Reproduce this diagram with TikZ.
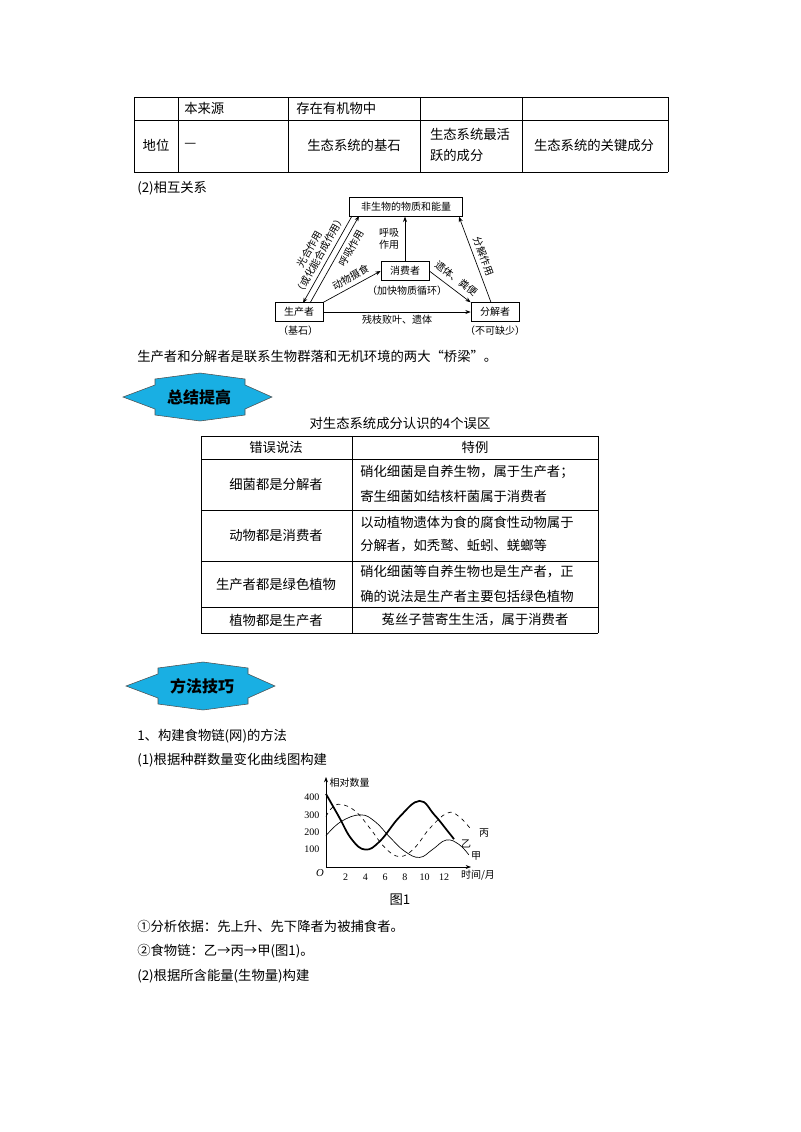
\documentclass[tikz,border=0pt]{standalone}
\usepackage{fontspec}
\setmainfont{Liberation Serif}
\newfontfamily\cjk{Noto Sans CJK SC}
\usetikzlibrary{arrows.meta}
\definecolor{bannerblue}{RGB}{25,175,227}
\tikzset{
 txt/.style={font=\cjk\fontsize{10}{12}\selectfont,inner sep=0pt},
 lt/.style={txt,anchor=west},
 sm/.style={font=\cjk\fontsize{7.5}{9}\selectfont,inner sep=1pt,align=center},
 bx/.style={sm,draw,line width=0.5pt,minimum height=14pt,minimum width=36pt},
 ar/.style={-{Stealth[length=4pt,width=3pt]},line width=0.5pt},
 tl/.style={line width=0.6pt},
 banner/.style={fill=bannerblue,draw=black!70,line width=0.4pt},
}
\begin{document}
\begin{tikzpicture}[x=0.75pt,y=-0.75pt]
\useasboundingbox (0,0) rectangle (800,1132);
% top table
\foreach \y in {97,120,172} \draw[tl] (134,\y) -- (668,\y);
\foreach \x in {134,178,288,420,522,668} \draw[tl] (\x,97) -- (\x,172);
\node[lt] (t1) at (184,108) {本来源};
\node[lt] (t2) at (296,108) {存在有机物中};
\node[txt] (t3) at (156,145) {地位};
\node[lt] (t4) at (184,145) {—};
\node[txt] (t5) at (354,145) {生态系统的基石};
\node[txt,align=left] (t6) at (470,145) {生态系统最活\\[4pt]跃的成分};
\node[txt] (t7) at (594,145) {生态系统的关键成分};
\node[lt] (h2) at (137,188) {(2)相互关系};
% triangle diagram
\node[bx,minimum width=85pt] (abio) at (406,207) {非生物的物质和能量};
\node[bx] (cons) at (405,271) {消费者};
\node[bx] (prod) at (299,312) {生产者};
\node[bx] (deco) at (495,312) {分解者};
\node[sm] (c1) at (407,291) {（加快物质循环）};
\node[sm] (p1) at (298,331) {（基石）};
\node[sm] (d1) at (495,331) {（不可缺少）};
\coordinate (a1) at (352,216); \coordinate (a2) at (303,303);
\coordinate (b1) at (310,303); \coordinate (b2) at (359,216);
\draw[ar] (a1) -- (a2);
\draw[ar] (b1) -- (b2);
\path (a2) -- (a1) node[sm,midway,sloped,above=2pt] (l1) {光合作用\\（或化能合成作用）};
\path (b1) -- (b2) node[sm,pos=0.68,sloped,below=2pt] (l2) {呼吸作用};
\draw[ar] (prod.north east) -- (cons.west) node[sm,pos=0.55,sloped,above=2pt] (l3) {动物摄食};
\draw[ar] (cons.north) -- (cons.north |- abio.south);
\node[sm] (l4) at (389,239) {呼吸\\作用};
\draw[ar] (cons.east) -- (deco.north west) node[sm,pos=0.5,sloped,above=3pt] (l5) {遗体、粪便};
\draw[ar] ([xshift=-3pt]deco.north) -- ([xshift=-3pt]abio.south east);
\path ([xshift=-3pt]abio.south east) -- ([xshift=-3pt]deco.north) node[sm,midway,sloped,above=2pt] (l6) {分解作用};
\draw[ar] (prod.east) -- (deco.west) node[sm,midway,below=1pt] (l7) {残枝败叶、遗体};
\node[lt] (s1) at (137,356) {生产者和分解者是联系生物群落和无机环境的两大“桥梁”。};
% banner 1
\begin{scope}
\draw[banner] (123,397)--(155,385)--(155,379)--(200,373)--(245,379)--(245,385)--(272,397)--(245,409)--(245,415)--(200,421)--(155,415)--(155,409)--cycle;
\node[font=\cjk\bfseries\fontsize{12}{14}\selectfont] (bn1) at (199,397) {总结提高};
\end{scope}
\node[txt] (tt) at (400,423) {对生态系统成分认识的4个误区};
% table 2
\foreach \y in {436,459,510,561,607,633} \draw[tl] (201,\y) -- (598,\y);
\foreach \x in {201,352,598} \draw[tl] (\x,436) -- (\x,633);
\node[txt] (r0a) at (276,447) {错误说法};
\node[txt] (r0b) at (475,447) {特例};
\node[txt] (r1a) at (276,484) {细菌都是分解者};
\node[lt] (r1b) at (360,472) {硝化细菌是自养生物，属于生产者；};
\node[lt] (r1c) at (360,496) {寄生细菌如结核杆菌属于消费者};
\node[txt] (r2a) at (276,535) {动物都是消费者};
\node[lt] (r2b) at (360,522) {以动植物遗体为食的腐食性动物属于};
\node[lt] (r2c) at (360,546) {分解者，如秃鹫、蚯蚓、蜣螂等};
\node[txt] (r3a) at (276,584) {生产者都是绿色植物};
\node[lt] (r3b) at (360,572) {硝化细菌等自养生物也是生产者，正};
\node[lt] (r3c) at (360,596) {确的说法是生产者主要包括绿色植物};
\node[txt] (r4a) at (276,620) {植物都是生产者};
\node[txt] (r4b) at (475,620) {菟丝子营寄生生活，属于消费者};
% banner 2
\begin{scope}[shift={(3,289)}]
\draw[banner] (123,397)--(155,385)--(155,379)--(200,373)--(245,379)--(245,385)--(272,397)--(245,409)--(245,415)--(200,421)--(155,415)--(155,409)--cycle;
\node[font=\cjk\bfseries\fontsize{12}{14}\selectfont] (bn2) at (199,397) {方法技巧};
\end{scope}
\node[lt] (m1) at (137,736) {1、构建食物链(网)的方法};
\node[lt] (m2) at (137,760) {(1)根据种群数量变化曲线图构建};
% graph
\begin{scope}[shift={(326,867)}]
\coordinate (O) at (0,0);
\coordinate (ytop) at (0,-90);
\coordinate (xend) at (145,0);
\draw[ar] (O) -- (ytop);
\draw[ar] (O) -- (xend);
\node[sm,anchor=west] (yl) at (2,-84) {相对数量};
\node[sm,anchor=north] (xl) at (152,2) {时间/月};
\node[font=\itshape\fontsize{8}{9}\selectfont] (o) at (-6,6) {O};
\foreach \v in {100,200,300,400} \node[font=\fontsize{7.5}{9}\selectfont,anchor=east] at (-2,-0.174*\v) {\v};
\foreach \m in {2,4,6,8,10,12} \node[font=\fontsize{7.5}{9}\selectfont,anchor=north] at (9.85*\m,2) {\m};
\begin{scope}[xscale=9.85,yscale=-0.174]
\draw[line width=1.3pt] plot[smooth,tension=0.7] coordinates {(0,420) (1.3,290) (2.6,160) (4,100) (5.5,150) (7.5,290) (9.5,380) (11,300) (12.3,210) (13,160)};
\draw[dashed,line width=0.5pt] plot[smooth,tension=0.7] coordinates {(0,290) (0.6,340) (1.5,360) (3,320) (4.5,220) (6,110) (7.5,60) (9,110) (10.5,220) (12.3,310) (13.5,290) (14.8,210)};
\draw[line width=0.5pt] plot[smooth,tension=0.7] coordinates {(0,180) (1.5,260) (3.5,300) (5,260) (6.5,170) (8,90) (9.5,55) (10.8,100) (12.2,155) (13.5,130) (14.5,70)};
\end{scope}
\node[sm] (yi) at (140,-23) {乙};
\node[sm] (bing) at (158,-34) {丙};
\node[sm] (jia) at (150,-11) {甲};
\end{scope}
\node[txt] (fig) at (400,900) {图1};
\node[lt] (m3) at (137,926) {①分析依据：先上升、先下降者为被捕食者。};
\node[lt] (m4) at (137,951) {②食物链：乙→丙→甲(图1)。};
\node[lt] (m5) at (137,976) {(2)根据所含能量(生物量)构建};
\end{tikzpicture}
\end{document}
